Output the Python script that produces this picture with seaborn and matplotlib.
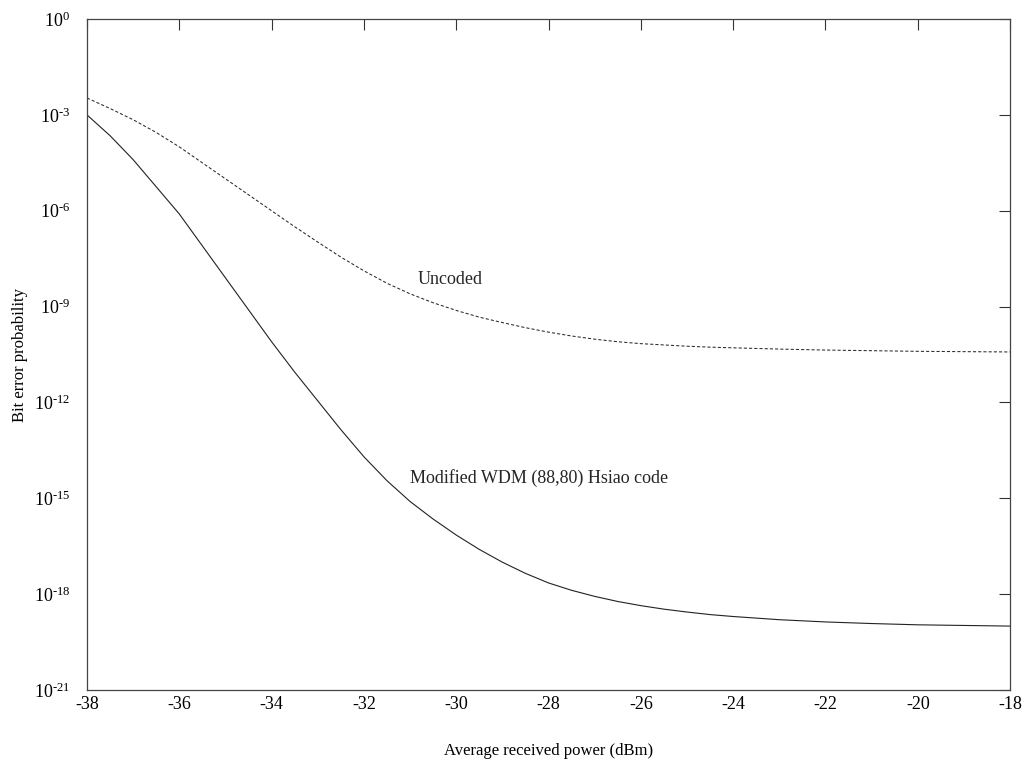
import numpy as np
import pandas as pd
import seaborn as sns
import matplotlib.pyplot as plt
from matplotlib.ticker import FixedLocator, FixedFormatter, NullLocator

# average received power (dBm)
power = [-38, -37.5, -37, -36.5, -36, -35.5, -35, -34.5, -34, -33.5, -33,
         -32.5, -32, -31.5, -31, -30.5, -30, -29.5, -29, -28.5, -28,
         -27.5, -27, -26.5, -26, -25.5, -25, -24.5, -24,
         -23, -22, -21, -20, -19, -18]

# log10 of bit error probability
uncoded_exp = [-2.47, -2.8, -3.15, -3.55, -4.0, -4.5, -5.0, -5.5, -6.0, -6.5, -6.98,
               -7.45, -7.88, -8.27, -8.6, -8.88, -9.12, -9.33, -9.5, -9.66, -9.8,
               -9.92, -10.02, -10.1, -10.16, -10.2, -10.24, -10.27, -10.29,
               -10.33, -10.36, -10.38, -10.4, -10.41, -10.42]
hsiao_exp = [-3.0, -3.65, -4.4, -5.25, -6.1, -7.1, -8.1, -9.1, -10.1, -11.05, -11.95,
             -12.85, -13.7, -14.45, -15.1, -15.65, -16.15, -16.6, -17.0, -17.35, -17.65,
             -17.88, -18.07, -18.23, -18.36, -18.47, -18.56, -18.64, -18.7,
             -18.8, -18.87, -18.92, -18.96, -18.98, -19.0]

ytick_exp = [0, -3, -6, -9, -12, -15, -18, -21]
xticks = [-38, -36, -34, -32, -30, -28, -26, -24, -22, -20, -18]

df = pd.DataFrame({
    'power': power,
    'uncoded': 10.0 ** np.array(uncoded_exp),
    'hsiao': 10.0 ** np.array(hsiao_exp),
})

sns.set_theme(style='white')
plt.rcParams['font.family'] = ['Liberation Serif', 'DejaVu Serif']
plt.rcParams['mathtext.fontset'] = 'custom'
plt.rcParams['mathtext.rm'] = 'Liberation Serif'
plt.rcParams['mathtext.it'] = 'Liberation Serif'

fig = plt.figure(figsize=(10.28, 7.62), dpi=100)
ax = fig.add_axes([0.0846, 0.0945, 0.898, 0.8805])

# uncoded (dashed) and coded (solid)
sns.lineplot(data=df, x='power', y='uncoded', ax=ax, color='#2a2a2a',
             linewidth=0.75, linestyle=(0, (3, 2)))
sns.lineplot(data=df, x='power', y='hsiao', ax=ax, color='#222222', linewidth=0.8)

ax.set_yscale('log')
ax.set_xlim(-38, -18)
ax.set_ylim(1e-21, 1e0)

ax.yaxis.set_major_locator(FixedLocator([10.0 ** e for e in ytick_exp]))
ax.yaxis.set_major_formatter(FixedFormatter(['$10^{%d}$' % e if e == 0 else '$10^{\\text{-}%d}$' % (-e) for e in ytick_exp]))
ax.yaxis.set_minor_locator(NullLocator())
ax.set_xticks(xticks)
ax.set_xticklabels([str(t) for t in xticks])

ax.tick_params(axis='both', which='major', direction='in', length=8, width=0.8,
               color='#333333', top=True, right=True, labelsize=13, labelcolor='black')
ax.tick_params(axis='x', pad=4)
ax.tick_params(axis='y', pad=12)

for s in ax.spines.values():
    s.set_color('#444444')
    s.set_linewidth(0.9)

ax.set_xlabel('Average received power (dBm)', fontsize=12, labelpad=22, color='black')
ax.set_ylabel('Bit error probability', fontsize=12, labelpad=4, color='black')

ax.text(-30.83, 10 ** -8.15, 'Uncoded', fontsize=13, va='center', ha='left')
ax.text(-31.0, 10 ** -14.37, 'Modified WDM (88,80) Hsiao code', fontsize=13, va='center', ha='left')

fig.savefig('out.png', dpi=100, facecolor='white')
